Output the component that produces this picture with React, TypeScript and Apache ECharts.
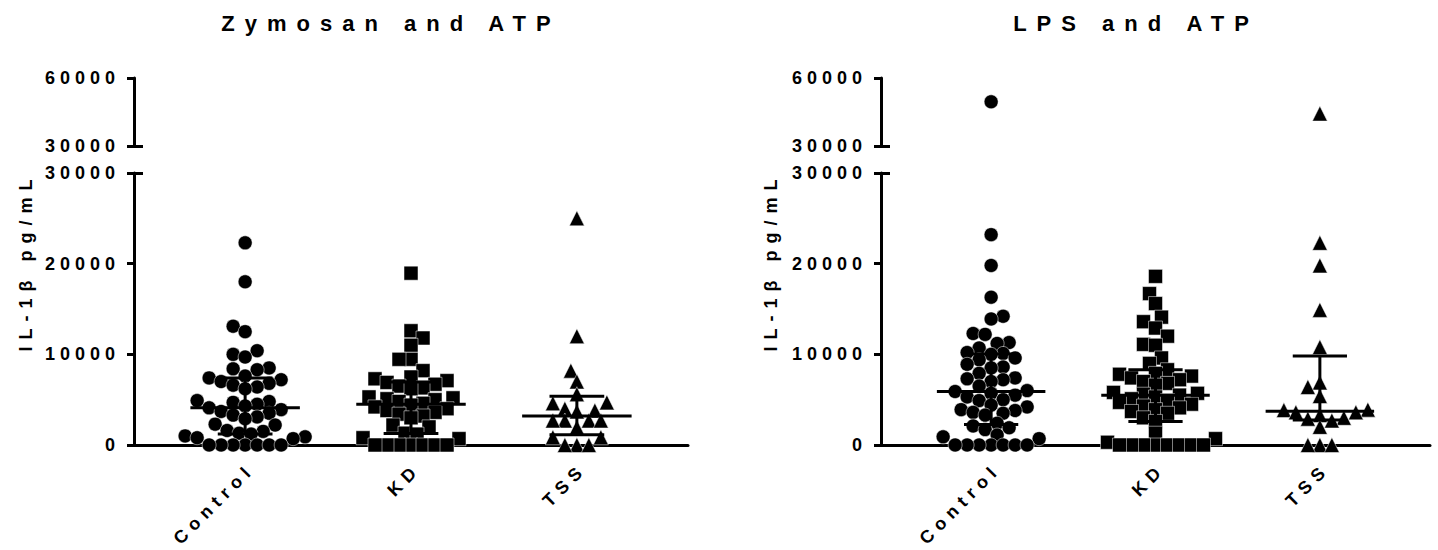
import React, { useEffect, useRef } from 'react';
import * as echarts from 'echarts';

const categories = ['Control', 'KD', 'TSS'];
const panelTitles = ['Zymosan and ATP', 'LPS and ATP'];
const yAxisName = 'IL-1β pg/mL';

// IL-1β pg/mL values
const zymosanControl = [22300, 18000, 13100, 12500, 10400, 10000, 9700, 8500, 8400, 8300, 7600, 7400, 7200, 7000, 6800, 6600, 6400, 6200, 4900, 4800, 4700, 4500, 4300, 4100, 3900, 3700, 3500, 3300, 3100, 2900, 2300, 2200, 1600, 1500, 1300, 1200, 1000, 900, 800, 700, 0, 0, 0, 0, 0, 0, 0];
const zymosanKD = [18950, 12600, 11800, 11000, 9450, 9450, 8200, 7500, 7300, 7100, 6900, 6700, 6500, 6300, 6200, 5300, 5200, 5100, 5000, 4800, 4600, 4400, 4200, 4000, 3800, 3600, 3400, 3200, 3000, 2200, 2000, 1300, 1200, 800, 700, 0, 0, 0, 0, 0, 0, 0];
const zymosanTSS = [25000, 12000, 8200, 7000, 5600, 4700, 4600, 4000, 3800, 3700, 2700, 2700, 2700, 2700, 1950, 850, 850, 0, 0, 0];
const lpsControl = [49500, 23200, 19800, 16300, 14200, 13900, 12300, 12200, 11300, 11200, 10700, 10200, 10100, 10000, 9600, 9400, 8900, 8600, 8500, 7900, 7400, 7300, 7200, 7000, 6500, 6000, 5900, 5700, 5500, 5300, 5000, 4900, 4400, 4200, 3900, 3800, 3600, 3500, 3300, 2400, 2100, 1900, 1700, 1100, 900, 700, 0, 0, 0, 0, 0, 0, 0];
const lpsKD = [18600, 16700, 15600, 14100, 13600, 12900, 12000, 11100, 11000, 9600, 9000, 8300, 7900, 7800, 7600, 7400, 7200, 7000, 6800, 6600, 5800, 5700, 5600, 5500, 5300, 5100, 4900, 4700, 4500, 4300, 4100, 3900, 3700, 3500, 3000, 2600, 1300, 700, 300, 0, 0, 0, 0, 0, 0, 0, 0];
const lpsTSS = [44300, 22300, 19800, 14900, 10800, 6900, 6400, 5400, 3900, 3850, 3600, 3600, 3300, 3000, 2900, 2700, 2000, 0, 0, 0];

const BREAK = 30000;
const TOP = 60000;

const FONT = 'Liberation Sans, Arial, Helvetica, sans-serif';
const symbols = ['circle', 'rect', 'triangle'];
const symbolSizes = [14, 14, 15];

const X_MIN = 0.33;
const X_MAX = 3.67;
const UPPER_TOP = 78;
const UPPER_H = 68;
const LOWER_TOP = 173;
const LOWER_H = 272;

const panels = [
  { left: 134, width: 554, titleX: 386, nameX: 26, groups: [zymosanControl, zymosanKD, zymosanTSS] },
  { left: 881, width: 549, titleX: 1131, nameX: 771, groups: [lpsControl, lpsKD, lpsTSS] },
];

function quantile(sorted: number[], p: number) {
  const n = sorted.length;
  const pos = (n + 1) * p;
  if (pos <= 1) return sorted[0];
  if (pos >= n) return sorted[n - 1];
  const lo = Math.floor(pos);
  const frac = pos - lo;
  return sorted[lo - 1] + frac * (sorted[lo] - sorted[lo - 1]);
}

function valueToPx(v: number) {
  return v <= BREAK ? (v * LOWER_H) / BREAK : LOWER_H + 200 + ((v - BREAK) * UPPER_H) / (TOP - BREAK);
}

// Column-scatter layout: each point takes the free half-step slot closest to the centre
function swarmOffsets(values: number[], minDist: number, step: number) {
  const order = values.map((_, i) => i).sort((a, b) => values[a] - values[b]);
  const placed: { x: number; y: number }[] = [];
  const out = new Array(values.length).fill(0);
  let side = 1;
  order.forEach((i) => {
    const y = valueToPx(values[i]);
    const near = placed.filter((p) => Math.abs(p.y - y) < minDist);
    const free = (x: number) => near.every((p) => Math.hypot(p.x - x, p.y - y) >= minDist - 1e-6);
    let chosen = 0;
    if (!free(0)) {
      for (let k = 1; k < 200; k++) {
        const a = side * k * step;
        const b = -side * k * step;
        if (free(a)) { chosen = a; side = -side; break; }
        if (free(b)) { chosen = b; break; }
      }
    }
    placed.push({ x: chosen, y });
    out[i] = chosen;
  });
  return out;
}

function buildOption() {
  const grid: any[] = [];
  const xAxis: any[] = [];
  const yAxis: any[] = [];
  const series: any[] = [];
  const title: any[] = [];
  const graphic: any[] = [];

  const axisLineStyle = { color: '#000', width: 3 };
  const labelStyle = { color: '#000', fontSize: 18, fontWeight: 'bold', fontFamily: FONT };

  panels.forEach((p, pi) => {
    const gU = pi * 2;
    const gL = pi * 2 + 1;
    grid.push({ left: p.left, top: UPPER_TOP, width: p.width, height: UPPER_H });
    grid.push({ left: p.left, top: LOWER_TOP, width: p.width, height: LOWER_H });

    xAxis.push({ type: 'value', gridIndex: gU, min: X_MIN, max: X_MAX, show: false });
    xAxis.push({
      type: 'value', gridIndex: gL, min: X_MIN, max: X_MAX,
      axisLine: { show: true, onZero: false, lineStyle: axisLineStyle },
      axisTick: { show: true, length: 6, customValues: [1, 2, 3], lineStyle: { color: '#000', width: 2 } },
      axisLabel: {
        show: true, customValues: [1, 2, 3], rotate: 45, margin: 15, verticalAlign: 'top',
        formatter: (v: number) => categories[Math.round(v) - 1] || '',
        ...labelStyle,
      },
      splitLine: { show: false },
    });

    yAxis[gU] = {
      type: 'value', gridIndex: gU, min: BREAK, max: TOP, interval: BREAK,
      axisLine: { show: true, lineStyle: axisLineStyle },
      axisTick: { show: true, length: 7, lineStyle: { color: '#000', width: 3 } },
      axisLabel: { show: true, margin: 14, formatter: (v: number) => String(v), ...labelStyle },
      splitLine: { show: false },
    };
    yAxis[gL] = {
      type: 'value', gridIndex: gL, min: 0, max: BREAK, interval: 10000,
      axisLine: { show: true, lineStyle: axisLineStyle },
      axisTick: { show: true, length: 7, lineStyle: { color: '#000', width: 3 } },
      axisLabel: { show: true, margin: 14, formatter: (v: number) => String(v), ...labelStyle },
      splitLine: { show: false },
    };

    title.push({
      text: panelTitles[pi], left: p.titleX, top: 7, textAlign: 'center',
      textStyle: { color: '#000', fontSize: 22, fontWeight: 'bold', fontFamily: FONT },
    });
    graphic.push({
      type: 'text', x: p.nameX, y: 262, rotation: Math.PI / 2,
      style: { text: yAxisName, fill: '#000', fontSize: 18, fontWeight: 'bold', fontFamily: FONT, align: 'center', verticalAlign: 'middle' },
    });

    const pxPerUnit = p.width / (X_MAX - X_MIN);
    const stats: number[][] = [];
    p.groups.forEach((vals, gi) => {
      const offs = swarmOffsets(vals, 11.5, 6);
      const lower: number[][] = [];
      const upper: number[][] = [];
      vals.forEach((v, i) => {
        const pt = [gi + 1 + offs[i] / pxPerUnit, v];
        if (v > BREAK) upper.push(pt);
        else lower.push(pt);
      });
      const common = {
        type: 'scatter', symbol: symbols[gi], symbolSize: symbolSizes[gi],
        itemStyle: { color: '#000', opacity: 1, borderColor: '#fff', borderWidth: 0.5 },
        emphasis: { disabled: true }, silent: true, z: 2,
      };
      series.push({ ...common, name: `${panelTitles[pi]} ${categories[gi]}`, xAxisIndex: gL, yAxisIndex: gL, data: lower });
      series.push({ ...common, name: `${panelTitles[pi]} ${categories[gi]} (upper)`, xAxisIndex: gU, yAxisIndex: gU, data: upper });
      const sorted = [...vals].sort((a, b) => a - b);
      stats.push([gi + 1, quantile(sorted, 0.5), quantile(sorted, 0.25), quantile(sorted, 0.75)]);
    });

    series.push({
      type: 'custom', name: `${panelTitles[pi]} median IQR`, xAxisIndex: gL, yAxisIndex: gL, z: 3, silent: true,
      data: stats,
      renderItem: (params: any, api: any) => {
        const x = api.value(0);
        const med = api.value(1);
        const q1 = api.value(2);
        const q3 = api.value(3);
        const c = (xv: number, yv: number) => api.coord([xv, yv]);
        const st = { stroke: '#000', lineWidth: 3 };
        const seg = (a: number[], b: number[]) => ({ type: 'line', shape: { x1: a[0], y1: a[1], x2: b[0], y2: b[1] }, style: st });
        return {
          type: 'group',
          children: [
            seg(c(x - 0.33, med), c(x + 0.33, med)),
            seg(c(x - 0.165, q1), c(x + 0.165, q1)),
            seg(c(x - 0.165, q3), c(x + 0.165, q3)),
            seg(c(x, q1), c(x, q3)),
          ],
        };
      },
    });
  });

  // break caps: short inward ticks at 30000 on both segments
  panels.forEach((p, pi) => {
    const gU = pi * 2;
    const gL = pi * 2 + 1;
    [gU, gL].forEach((g) => {
      yAxis.push({
        type: 'value', gridIndex: g, position: 'left', offset: 0,
        min: g === gU ? BREAK : 0, max: g === gU ? TOP : BREAK,
        axisLine: { show: false },
        axisTick: { show: true, inside: true, length: 9, customValues: [BREAK], lineStyle: { color: '#000', width: 3 } },
        axisLabel: { show: false },
        splitLine: { show: false },
      });
    });
  });

  return { animation: false, backgroundColor: '#fff', title, grid, xAxis, yAxis, series, graphic };
}

function applySpacing(el: HTMLElement) {
  el.querySelectorAll('text').forEach((t) => {
    const s = t.textContent || '';
    let ls = 5;
    if (panelTitles.includes(s)) ls = 10;
    else if (s === yAxisName) ls = 7;
    else if (categories.includes(s)) ls = 6;
    t.setAttribute('letter-spacing', `${ls}px`);
    (t as any).style.letterSpacing = `${ls}px`;
  });
}

export default function App() {
  const ref = useRef<HTMLDivElement>(null);
  useEffect(() => {
    if (!ref.current) return;
    const el = ref.current;
    const chart = echarts.init(el, undefined, { renderer: 'svg' });
    chart.setOption(buildOption() as any);
    applySpacing(el);
    chart.on('finished', () => applySpacing(el));
    return () => chart.dispose();
  }, []);
  return (
    <div
      ref={ref}
      style={{ position: 'absolute', left: 0, top: 0, width: 1438, height: 550, background: '#fff' }}
    />
  );
}
